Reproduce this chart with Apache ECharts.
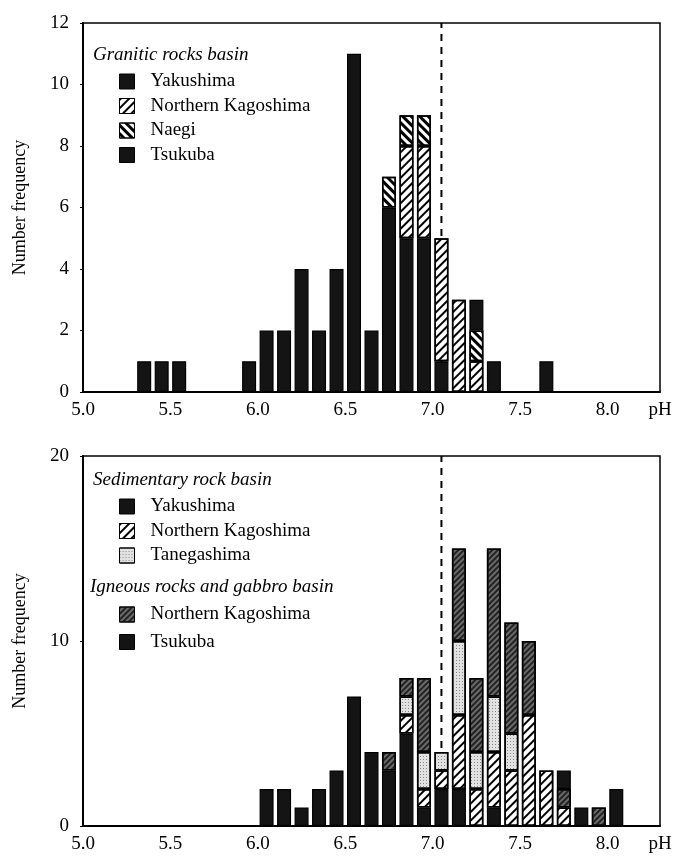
<!DOCTYPE html>
<html>
<head>
<meta charset="utf-8">
<script src="https://cdn.jsdelivr.net/npm/echarts@6/dist/echarts.min.js"></script>
<style>
  html, body { margin: 0; padding: 0; background: #fff; }
  #chart { width: 689px; height: 865px; }
</style>
</head>
<body>
<div id="chart"></div>
<script>
// 0.1-wide pH classes along the axis (lower edge of each class)
const classes = ['5.0', '5.1', '5.2', '5.3', '5.4', '5.5', '5.6', '5.7', '5.8', '5.9',
                 '6.0', '6.1', '6.2', '6.3', '6.4', '6.5', '6.6', '6.7', '6.8', '6.9',
                 '7.0', '7.1', '7.2', '7.3', '7.4', '7.5', '7.6', '7.7', '7.8', '7.9',
                 '8.0', '8.1', '8.2'];

// Granitic rocks basin
const topBins      = ['5.3', '5.4', '5.5', '5.9', '6.0', '6.1', '6.2', '6.3', '6.4', '6.5', '6.6', '6.7', '6.8', '6.9', '7.0', '7.1', '7.2', '7.3', '7.6'];
const graYakushima = [1, 1, 1, 1, 2, 2, 4, 2, 4, 11, 2, 6, 5, 5, 1, 0, 0, 1, 1];
const graNorthKago = [0, 0, 0, 0, 0, 0, 0, 0, 0, 0, 0, 0, 3, 3, 4, 3, 1, 0, 0];
const graNaegi     = [0, 0, 0, 0, 0, 0, 0, 0, 0, 0, 0, 1, 1, 1, 0, 0, 1, 0, 0];
const graTsukuba   = [0, 0, 0, 0, 0, 0, 0, 0, 0, 0, 0, 0, 0, 0, 0, 0, 1, 0, 0];

// Sedimentary rock basin / Igneous rocks and gabbro basin
const botBins      = ['6.0', '6.1', '6.2', '6.3', '6.4', '6.5', '6.6', '6.7', '6.8', '6.9', '7.0', '7.1', '7.2', '7.3', '7.4', '7.5', '7.6', '7.7', '7.8', '7.9', '8.0'];
const sedYakushima = [2, 2, 1, 2, 3, 7, 4, 3, 5, 1, 2, 2, 0, 1, 0, 0, 0, 0, 0, 0, 0];
const sedNorthKago = [0, 0, 0, 0, 0, 0, 0, 0, 1, 1, 1, 4, 2, 3, 3, 6, 3, 1, 0, 0, 0];
const sedTanega    = [0, 0, 0, 0, 0, 0, 0, 0, 1, 2, 1, 4, 2, 3, 2, 0, 0, 0, 0, 0, 0];
const ignNorthKago = [0, 0, 0, 0, 0, 0, 0, 1, 1, 4, 0, 5, 4, 8, 6, 4, 0, 1, 0, 1, 0];
const ignTsukuba   = [0, 0, 0, 0, 0, 0, 0, 0, 0, 0, 0, 0, 0, 0, 0, 0, 0, 1, 1, 0, 2];

const xTicks = [5.0, 5.5, 6.0, 6.5, 7.0, 7.5, 8.0];
const neutralPH = 7.0;
const CLASS_W = 0.1;

const FONT = '"Liberation Serif", "DejaVu Serif", serif';

const names = {
  gY: 'Yakushima', gN: 'Northern Kagoshima', gNa: 'Naegi', gT: 'Tsukuba',
  sY: 'Yakushima', sN: 'Northern Kagoshima', sTa: 'Tanegashima',
  iN: 'Northern Kagoshima', iT: 'Tsukuba'
};

const styles = {
  dark: { color: '#141414', borderColor: '#000', borderWidth: 1.2 },
  hatch: {
    color: '#fff', borderColor: '#000', borderWidth: 1.5,
    decal: { symbol: 'rect', color: '#000', dashArrayX: [1, 0], dashArrayY: [2, 4], rotation: -Math.PI / 4 }
  },
  backHatch: {
    color: '#fff', borderColor: '#000', borderWidth: 1.5,
    decal: { symbol: 'rect', color: '#000', dashArrayX: [1, 0], dashArrayY: [3, 3], rotation: Math.PI / 4 }
  },
  stipple: {
    color: '#e2e2e2', borderColor: '#000', borderWidth: 1.5,
    decal: { symbol: 'rect', color: '#888', dashArrayX: [1, 2], dashArrayY: [1, 2], rotation: 0 }
  },
  darkHatch: {
    color: '#6a6a6a', borderColor: '#000', borderWidth: 1.5,
    decal: { symbol: 'rect', color: '#222', dashArrayX: [1, 0], dashArrayY: [1.5, 1.5], rotation: -Math.PI / 4 }
  }
};

function barSeries(id, bins, vals, style, grid, stack) {
  return {
    id: id,
    name: id,
    type: 'bar',
    stack: stack,
    xAxisIndex: grid * 2,
    yAxisIndex: grid,
    barWidth: 14,
    z: 3,
    itemStyle: style,
    emphasis: { disabled: true },
    data: bins.map((b, i) => [b, vals[i]]).filter(d => d[1] > 0)
  };
}

function neutralLine(grid, yMax) {
  const x = neutralPH + CLASS_W / 2;   // middle of the 7.0 class
  return {
    type: 'line', xAxisIndex: grid * 2 + 1, yAxisIndex: grid, z: 1,
    symbol: 'none', silent: true,
    lineStyle: { color: '#000', width: 2, type: [7, 6] },
    data: [[x, 0], [x, yMax]]
  };
}

const chart = echarts.init(document.getElementById('chart'));

const catAxis = {
  type: 'category', data: classes, show: false, position: 'bottom'
};
const valAxis = {
  type: 'value', min: 5.0, max: 8.3, interval: 0.5, position: 'bottom',
  axisLine: { onZero: false, lineStyle: { color: '#000', width: 2 } },
  axisTick: { show: false },
  splitLine: { show: false },
  axisLabel: {
    color: '#000', fontFamily: FONT, fontSize: 19, margin: 9, showMaxLabel: true,
    formatter: v => (v > xTicks[xTicks.length - 1] + CLASS_W ? 'pH' : v.toFixed(1))
  }
};
const yAxisBase = {
  type: 'value', min: 0,
  name: 'Number frequency', nameLocation: 'middle', nameGap: 54,
  nameTextStyle: { color: '#000', fontFamily: FONT, fontSize: 18 },
  axisLine: { show: true, lineStyle: { color: '#000', width: 2 } },
  axisTick: { show: true, inside: false, length: 3, lineStyle: { color: '#000' } },
  splitLine: { show: false },
  axisLabel: { color: '#000', fontFamily: FONT, fontSize: 19, margin: 14 }
};

const legendBase = {
  orient: 'vertical', left: 119, padding: 0,
  icon: 'rect', itemWidth: 15, itemHeight: 15,
  selectedMode: false,
  itemStyle: { borderColor: '#000', borderWidth: 1 },
  textStyle: { color: '#000', fontFamily: FONT, fontSize: 19, lineHeight: 19, padding: [0, 0, 0, 11] },
  formatter: n => names[n]
};

const headStyle = { fill: '#000', font: 'italic 19px ' + FONT, textVerticalAlign: 'middle' };

chart.setOption({
  animation: false,
  backgroundColor: '#fff',
  grid: [
    { left: 83, right: 29, top: 23, height: 369, show: true, borderColor: '#000', borderWidth: 1.5 },
    { left: 83, right: 29, top: 456, height: 370, show: true, borderColor: '#000', borderWidth: 1.5 }
  ],
  xAxis: [
    Object.assign({ gridIndex: 0 }, catAxis),
    Object.assign({ gridIndex: 0 }, valAxis),
    Object.assign({ gridIndex: 1 }, catAxis),
    Object.assign({ gridIndex: 1 }, valAxis)
  ],
  yAxis: [
    Object.assign({ gridIndex: 0, max: 12, interval: 2 }, yAxisBase),
    Object.assign({ gridIndex: 1, max: 20, interval: 10 }, yAxisBase)
  ],
  legend: [
    Object.assign({ top: 72, itemGap: 5.5, data: ['gY', 'gN', 'gNa', 'gT'] }, legendBase),
    Object.assign({ top: 497, itemGap: 5.5, data: ['sY', 'sN', 'sTa'] }, legendBase),
    Object.assign({ top: 605, itemGap: 8.5, data: ['iN', 'iT'] }, legendBase)
  ],
  graphic: [
    { type: 'text', left: 93, top: 45, style: Object.assign({ text: 'Granitic rocks basin' }, headStyle) },
    { type: 'text', left: 93, top: 470, style: Object.assign({ text: 'Sedimentary rock basin' }, headStyle) },
    { type: 'text', left: 90, top: 577, style: Object.assign({ text: 'Igneous rocks and gabbro basin' }, headStyle) }
  ],
  series: [
    neutralLine(0, 12),
    barSeries('gY', topBins, graYakushima, styles.dark, 0, 'top'),
    barSeries('gN', topBins, graNorthKago, styles.hatch, 0, 'top'),
    barSeries('gNa', topBins, graNaegi, styles.backHatch, 0, 'top'),
    barSeries('gT', topBins, graTsukuba, styles.dark, 0, 'top'),
    neutralLine(1, 20),
    barSeries('sY', botBins, sedYakushima, styles.dark, 1, 'bot'),
    barSeries('sN', botBins, sedNorthKago, styles.hatch, 1, 'bot'),
    barSeries('sTa', botBins, sedTanega, styles.stipple, 1, 'bot'),
    barSeries('iN', botBins, ignNorthKago, styles.darkHatch, 1, 'bot'),
    barSeries('iT', botBins, ignTsukuba, styles.dark, 1, 'bot')
  ]
});
</script>
</body>
</html>
